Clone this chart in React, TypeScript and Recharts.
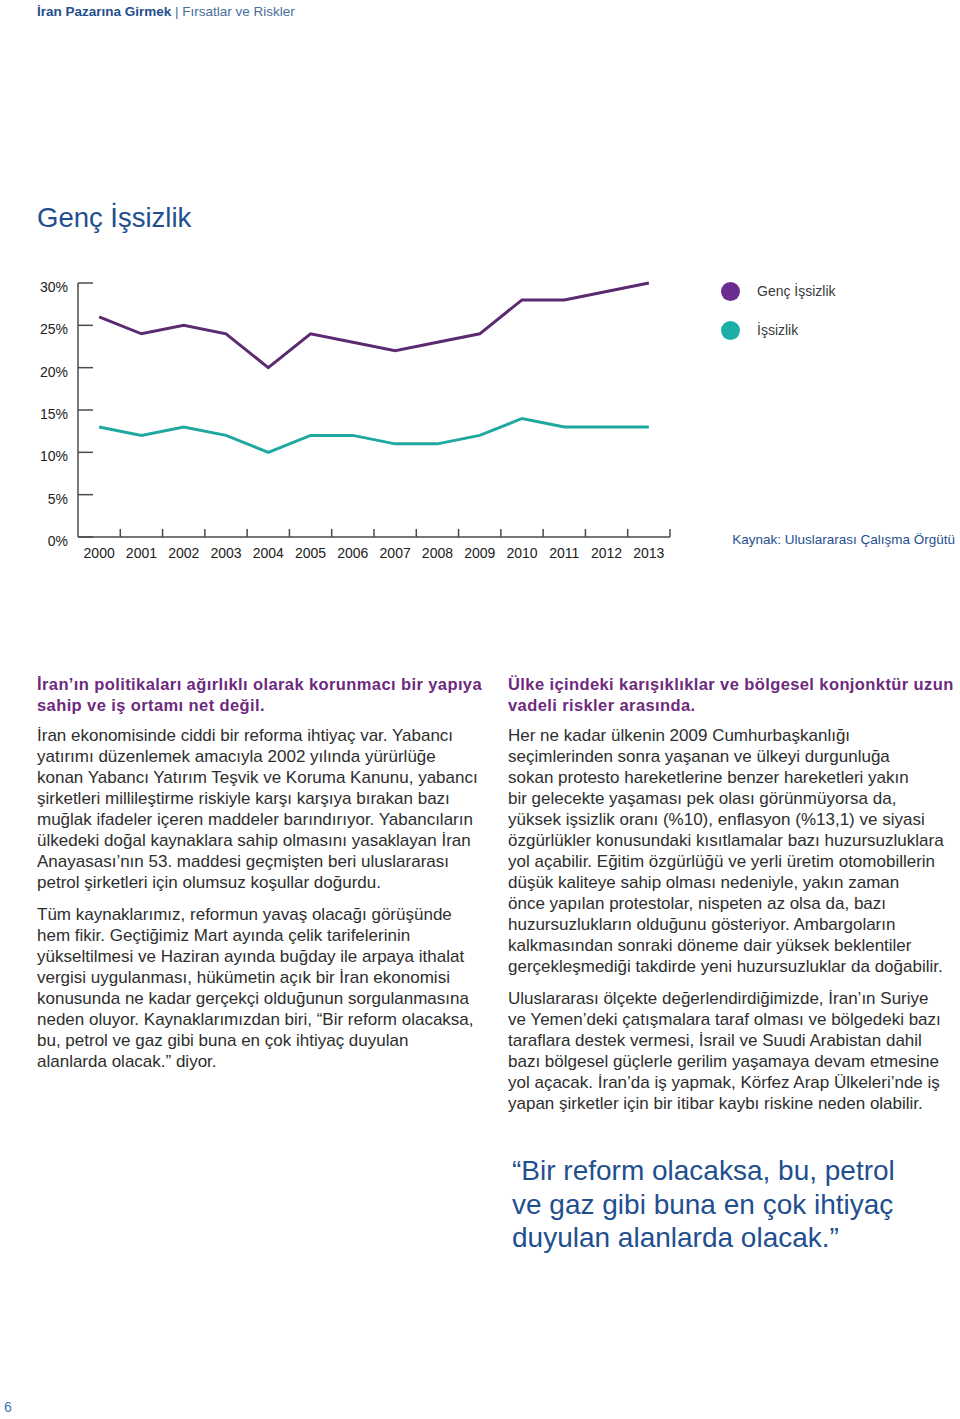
import React from "react";
import { LineChart, Line, XAxis, YAxis, Legend } from "recharts";

const years = ["2000", "2001", "2002", "2003", "2004", "2005", "2006", "2007", "2008", "2009", "2010", "2011", "2012", "2013"];
const youthUnemployment = [26, 24, 25, 24, 20, 24, 23, 22, 23, 24, 28, 28, 29, 30];
const unemployment = [13, 12, 13, 12, 10, 12, 12, 11, 11, 12, 14, 13, 13, 13];
const yTicks = [0, 5, 10, 15, 20, 25, 30];

const seriesNames = { youth: "Genç İşsizlik", total: "İşsizlik" };

const leftHeading = [
  "İran’ın politikaları ağırlıklı olarak korunmacı bir yapıya",
  "sahip ve iş ortamı net değil.",
];
const leftParagraphs = [
  [
    "İran ekonomisinde ciddi bir reforma ihtiyaç var. Yabancı",
    "yatırımı düzenlemek amacıyla 2002 yılında yürürlüğe",
    "konan Yabancı Yatırım Teşvik ve Koruma Kanunu, yabancı",
    "şirketleri millileştirme riskiyle karşı karşıya bırakan bazı",
    "muğlak ifadeler içeren maddeler barındırıyor. Yabancıların",
    "ülkedeki doğal kaynaklara sahip olmasını yasaklayan İran",
    "Anayasası’nın 53. maddesi geçmişten beri uluslararası",
    "petrol şirketleri için olumsuz koşullar doğurdu.",
  ],
  [
    "Tüm kaynaklarımız, reformun yavaş olacağı görüşünde",
    "hem fikir. Geçtiğimiz Mart ayında çelik tarifelerinin",
    "yükseltilmesi ve Haziran ayında buğday ile arpaya ithalat",
    "vergisi uygulanması, hükümetin açık bir İran ekonomisi",
    "konusunda ne kadar gerçekçi olduğunun sorgulanmasına",
    "neden oluyor. Kaynaklarımızdan biri, “Bir reform olacaksa,",
    "bu, petrol ve gaz gibi buna en çok ihtiyaç duyulan",
    "alanlarda olacak.” diyor.",
  ],
];
const rightHeading = [
  "Ülke içindeki karışıklıklar ve bölgesel konjonktür uzun",
  "vadeli riskler arasında.",
];
const rightParagraphs = [
  [
    "Her ne kadar ülkenin 2009 Cumhurbaşkanlığı",
    "seçimlerinden sonra yaşanan ve ülkeyi durgunluğa",
    "sokan protesto hareketlerine benzer hareketleri yakın",
    "bir gelecekte yaşaması pek olası görünmüyorsa da,",
    "yüksek işsizlik oranı (%10), enflasyon (%13,1) ve siyasi",
    "özgürlükler konusundaki kısıtlamalar bazı huzursuzluklara",
    "yol açabilir. Eğitim özgürlüğü ve yerli üretim otomobillerin",
    "düşük kaliteye sahip olması nedeniyle, yakın zaman",
    "önce yapılan protestolar, nispeten az olsa da, bazı",
    "huzursuzlukların olduğunu gösteriyor. Ambargoların",
    "kalkmasından sonraki döneme dair yüksek beklentiler",
    "gerçekleşmediği takdirde yeni huzursuzluklar da doğabilir.",
  ],
  [
    "Uluslararası ölçekte değerlendirdiğimizde, İran’ın Suriye",
    "ve Yemen’deki çatışmalara taraf olması ve bölgedeki bazı",
    "taraflara destek vermesi, İsrail ve Suudi Arabistan dahil",
    "bazı bölgesel güçlerle gerilim yaşamaya devam etmesine",
    "yol açacak. İran’da iş yapmak, Körfez Arap Ülkeleri’nde iş",
    "yapan şirketler için bir itibar kaybı riskine neden olabilir.",
  ],
];
const quoteLines = [
  "“Bir reform olacaksa, bu, petrol",
  "ve gaz gibi buna en çok ihtiyaç",
  "duyulan alanlarda olacak.”",
];

const FONT = '"Liberation Sans", Arial, sans-serif';
const BLUE = "#1f4f8f";
const PURPLE_TEXT = "#6d2a7e";
const BODY = "#2e2e2e";
const AXIS = "#4a4a4a";
const PURPLE_LINE = "#5b2a70";
const TEAL_LINE = "#1fa89f";
const PURPLE_DOT = "#6a2c8e";
const TEAL_DOT = "#1bb0a6";

const CHART_W = 960;
const CHART_H = 300;
const MARGIN = { top: 13, right: 290, bottom: 0, left: 0 };
const Y_AXIS_W = 78;
const HALF_STEP = (CHART_W - MARGIN.right - MARGIN.left - Y_AXIS_W) / years.length / 2;

const data = years.map((year, i) => ({
  year,
  youth: youthUnemployment[i],
  total: unemployment[i],
}));

function XTick(props: any) {
  const { x, y, payload } = props;
  return (
    <g>
      <line x1={x + HALF_STEP} x2={x + HALF_STEP} y1={y} y2={y - 8} stroke={AXIS} strokeWidth={1.5} />
      <text x={x} y={y + 21} textAnchor="middle" fontSize={14} fill="#222" fontFamily={FONT}>
        {payload.value}
      </text>
    </g>
  );
}

function YTick(props: any) {
  const { x, y, payload } = props;
  return (
    <g>
      <line x1={x} x2={x + 15} y1={y} y2={y} stroke={AXIS} strokeWidth={1.5} />
      <text x={x - 10} y={y + 9} textAnchor="end" fontSize={14} fill="#222" fontFamily={FONT}>
        {payload.value}%
      </text>
    </g>
  );
}

function LegendContent() {
  const items = [
    { name: seriesNames.youth, color: PURPLE_DOT },
    { name: seriesNames.total, color: TEAL_DOT },
  ];
  return (
    <div style={{ fontFamily: FONT }}>
      {items.map((it) => (
        <div key={it.name} style={{ display: "flex", alignItems: "center", height: 39 }}>
          <span
            style={{
              display: "inline-block",
              width: 19,
              height: 19,
              borderRadius: "50%",
              background: it.color,
            }}
          />
          <span style={{ marginLeft: 17, fontSize: 14, color: "#3a3a3a" }}>{it.name}</span>
        </div>
      ))}
    </div>
  );
}

function TextBlock({ left, top, width, heading, paragraphs }: any) {
  return (
    <div style={{ position: "absolute", left, top, width, fontFamily: FONT }}>
      {heading.map((l: string) => (
        <div
          key={l}
          style={{
            fontSize: 16.5,
            fontWeight: 700,
            letterSpacing: 0.4,
            color: PURPLE_TEXT,
            lineHeight: "21px",
            whiteSpace: "nowrap",
          }}
        >
          {l}
        </div>
      ))}
      {paragraphs.map((p: string[], i: number) => (
        <div key={i} style={{ marginTop: i === 0 ? 9 : 11 }}>
          {p.map((l) => (
            <div key={l} style={{ fontSize: 17, color: BODY, lineHeight: "21px", whiteSpace: "nowrap" }}>
              {l}
            </div>
          ))}
        </div>
      ))}
    </div>
  );
}

export default function App() {
  return (
    <div
      style={{
        position: "absolute",
        left: 0,
        top: 0,
        width: 960,
        height: 1419,
        background: "#fff",
        fontFamily: FONT,
        overflow: "hidden",
      }}
    >
      <div style={{ position: "absolute", left: 37, top: 3, fontSize: 13.5, lineHeight: "18px", color: BLUE, whiteSpace: "nowrap" }}>
        <span style={{ fontWeight: 600 }}>İran Pazarına Girmek</span>
        <span style={{ color: "#4a6d9c" }}> | Fırsatlar ve Riskler</span>
      </div>

      <div style={{ position: "absolute", left: 37, top: 201, fontSize: 27.5, lineHeight: "34px", color: BLUE }}>
        Genç İşsizlik
      </div>

      <div style={{ position: "absolute", left: 0, top: 270, width: CHART_W, height: CHART_H }}>
        <LineChart width={CHART_W} height={CHART_H} data={data} margin={MARGIN}>
          <XAxis
            dataKey="year"
            type="category"
            height={33}
            interval={0}
            padding={{ left: HALF_STEP, right: HALF_STEP }}
            axisLine={{ stroke: AXIS, strokeWidth: 1.5 }}
            tickLine={false}
            tickSize={0}
            tickMargin={0}
            tick={<XTick />}
          />
          <YAxis
            width={Y_AXIS_W}
            domain={[0, 30]}
            ticks={yTicks}
            interval={0}
            axisLine={{ stroke: AXIS, strokeWidth: 1.5 }}
            tickLine={false}
            tickSize={0}
            tickMargin={0}
            tick={<YTick />}
          />
          <Legend
            layout="horizontal"
            verticalAlign="middle"
            align="center"
            content={<LegendContent />}
            wrapperStyle={{ left: 721, top: 1.5, width: 200, height: 78 }}
          />
          <Line
            type="linear"
            dataKey="youth"
            name={seriesNames.youth}
            stroke={PURPLE_LINE}
            strokeWidth={3}
            dot={false}
            activeDot={false}
            isAnimationActive={false}
          />
          <Line
            type="linear"
            dataKey="total"
            name={seriesNames.total}
            stroke={TEAL_LINE}
            strokeWidth={3}
            dot={false}
            activeDot={false}
            isAnimationActive={false}
          />
        </LineChart>
      </div>

      <div
        style={{
          position: "absolute",
          right: 5,
          top: 531,
          fontSize: 13.5,
          lineHeight: "18px",
          color: BLUE,
          whiteSpace: "nowrap",
        }}
      >
        Kaynak: Uluslararası Çalışma Örgütü
      </div>

      <TextBlock left={37} top={673.5} width={460} heading={leftHeading} paragraphs={leftParagraphs} />
      <TextBlock left={508} top={673.5} width={450} heading={rightHeading} paragraphs={rightParagraphs} />

      <div style={{ position: "absolute", left: 512, top: 1154, fontSize: 28, lineHeight: "33.5px", color: BLUE, whiteSpace: "nowrap" }}>
        {quoteLines.map((l) => (
          <div key={l}>{l}</div>
        ))}
      </div>

      <div style={{ position: "absolute", left: 4, top: 1398, fontSize: 14, lineHeight: "18px", color: "#3f74b5" }}>6</div>
    </div>
  );
}
